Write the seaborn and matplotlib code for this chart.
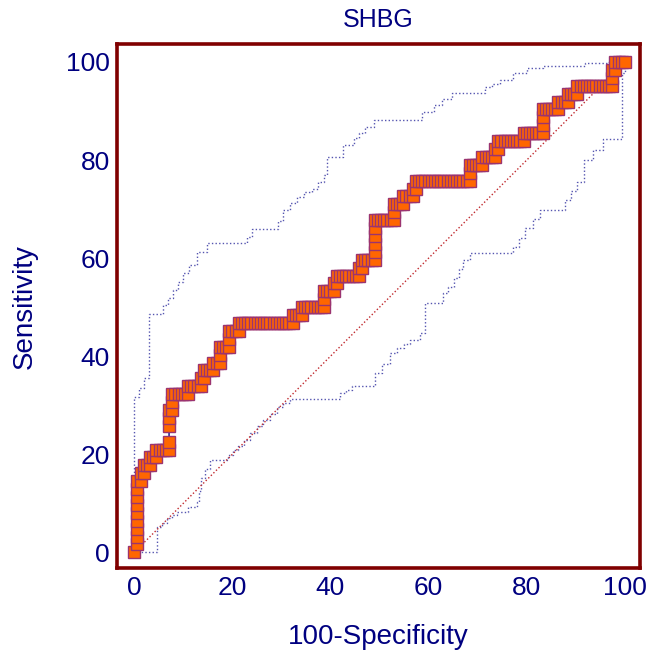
import numpy as np
import pandas as pd
import matplotlib
matplotlib.use("Agg")
import matplotlib.pyplot as plt
from matplotlib.ticker import MultipleLocator
import seaborn as sns

# ROC curve of SHBG, read off the picture as counts of
# false positives / true positives at each criterion value
n_neg = 155
n_pos = 62

fp_counts = [0,
             1, 1, 1, 1, 1, 1, 1, 1, 1,
             2, 2, 3, 3, 4, 5, 5, 6, 7, 7,
             8, 9, 10, 11, 11, 11, 11, 11,
             12, 12, 12, 13, 14, 15, 16, 17, 17,
             18, 19, 20, 21, 21, 22, 22,
             23, 24, 25, 25, 26, 27, 27, 27,
             28, 29, 30, 30, 30, 31, 32, 33, 33,
             34, 35, 36, 37, 38, 39, 40, 41, 42,
             43, 44, 45, 46, 47, 48, 49, 50, 50,
             51, 52, 53, 53, 54, 55, 56, 57, 58, 59, 60, 60, 60,
             61, 62, 63, 63, 64, 64,
             65, 66, 67, 68, 69, 70, 71, 71, 72, 72,
             73, 74, 75, 76, 76, 76, 76, 76, 76,
             77, 78, 79, 80, 81, 82, 82, 82,
             83, 84, 85, 85, 86, 87, 88, 88, 89, 89,
             90, 91, 92, 93, 94, 95, 96, 97, 98,
             99, 100, 101, 102, 103, 104, 105, 106, 106, 106,
             107, 108, 109, 110, 110, 111, 112, 113, 114, 114, 115, 115,
             116, 117, 118, 119, 120, 121, 122, 123, 123,
             124, 125, 126, 127, 128, 129, 129, 129, 129,
             130, 131, 132, 133, 134, 134, 135, 136, 137, 137, 138, 139, 140, 140,
             141, 142, 143, 144, 145, 146, 147, 148, 149, 150, 151, 151, 151,
             152, 152, 153, 154, 155]

tp_counts = [0,
             1, 2, 3, 4, 5, 6, 7, 8, 9,
             9, 10, 10, 11, 11, 11, 12, 12, 12, 13,
             13, 13, 13, 13, 14, 16, 17, 18,
             18, 19, 20, 20, 20, 20, 20, 20, 21,
             21, 21, 21, 21, 22, 22, 23,
             23, 23, 23, 24, 24, 24, 25, 26,
             26, 26, 26, 27, 28, 28, 28, 28, 29,
             29, 29, 29, 29, 29, 29, 29, 29, 29,
             29, 29, 29, 29, 29, 29, 29, 29, 30,
             30, 30, 30, 31, 31, 31, 31, 31, 31, 31, 31, 32, 33,
             33, 33, 33, 34, 34, 35,
             35, 35, 35, 35, 35, 35, 35, 36, 36, 37,
             37, 37, 37, 37, 38, 39, 40, 41, 42,
             42, 42, 42, 42, 42, 42, 43, 44,
             44, 44, 44, 45, 45, 45, 45, 46, 46, 47,
             47, 47, 47, 47, 47, 47, 47, 47, 47,
             47, 47, 47, 47, 47, 47, 47, 47, 48, 49,
             49, 49, 49, 49, 50, 50, 50, 50, 50, 51, 51, 52,
             52, 52, 52, 52, 52, 52, 52, 52, 53,
             53, 53, 53, 53, 53, 53, 54, 55, 56,
             56, 56, 56, 56, 56, 57, 57, 57, 57, 58, 58, 58, 58, 59,
             59, 59, 59, 59, 59, 59, 59, 59, 59, 59, 59, 60, 61,
             61, 62, 62, 62, 62]

# 95% confidence bounds (step corners, %)
upper_x = [0, 0, 0.9, 1.9, 3.0, 5.9, 6.9, 8.0, 9.0, 10.0, 11.2, 12.7, 14.8, 22.9, 24.0,
           29.4, 30.4, 31.7, 33.1, 34.6, 36.2, 37.4, 38.6, 39.2, 42.6, 44.7, 45.9, 47.1,
           48.8, 58.6, 61.0, 62.8, 64.7, 71.5, 73.0, 74.6, 77.3, 80.0, 83.4, 91.9, 96.3, 100]
upper_y = [0, 31.7, 33.5, 35.5, 48.7, 50.4, 51.9, 53.5, 55.2, 56.9, 58.5, 61.3, 63.0, 64.4, 65.9,
           67.5, 69.8, 71.2, 72.5, 73.4, 74.2, 75.6, 76.9, 80.7, 83.1, 84.4, 85.6, 86.8,
           88.2, 89.8, 91.2, 92.4, 93.6, 94.9, 95.6, 96.3, 97.7, 98.7, 99.1, 99.7, 100, 100]

lower_x = [0, 4.6, 5.6, 6.6, 7.6, 8.7, 11.0, 12.7, 13.2, 13.6, 14.5, 15.5, 19.2, 20.2, 21.2,
           22.3, 23.6, 25.0, 26.3, 27.6, 29.0, 30.3, 31.7, 42.0, 43.1, 44.3, 49.1, 50.6, 52.1,
           53.5, 54.9, 56.2, 58.3, 59.3, 63.0, 64.0, 65.1, 66.1, 67.1, 68.5, 77.3, 78.5, 79.7,
           81.2, 82.7, 87.8, 89.0, 90.2, 91.6, 93.6, 95.6, 99.4, 100]
lower_y = [0, 5.2, 6.0, 7.0, 7.6, 8.3, 9.3, 10.3, 12.6, 15.1, 17.0, 18.9, 19.9, 20.9, 21.6,
           22.9, 24.3, 25.7, 27.0, 28.3, 29.7, 30.4, 31.2, 32.4, 33.2, 33.9, 36.5, 38.5, 40.6,
           41.6, 42.4, 43.3, 44.7, 50.8, 52.8, 54.2, 55.9, 57.7, 59.6, 61.0, 62.3, 64.2, 66.1,
           68.0, 69.8, 71.8, 73.7, 75.6, 80.0, 82.0, 84.2, 97.7, 100]

diag = [0, 100]

navy = "#000080"
maroon = "#800000"

sns.set_theme(style="white")
plt.rcParams['font.family'] = ['Liberation Sans', 'DejaVu Sans']

roc = pd.DataFrame({"fpr": 100 * np.array(fp_counts) / n_neg,
                    "tpr": 100 * np.array(tp_counts) / n_pos})

fig = plt.figure(figsize=(6.54, 6.59), dpi=100)
ax = fig.add_axes([0.179, 0.138, 0.7997, 0.7951])

# confidence bounds and the reference diagonal
dotted = (0, (1, 1.6))
sns.lineplot(x=upper_x, y=upper_y, estimator=None, sort=False, drawstyle="steps-post",
             color="#5555B0", lw=1, linestyle=dotted, ax=ax, zorder=2)
sns.lineplot(x=lower_x, y=lower_y, estimator=None, sort=False, drawstyle="steps-post",
             color="#5555B0", lw=1, linestyle=dotted, ax=ax, zorder=2)
sns.lineplot(x=diag, y=diag, estimator=None, sort=False,
             color="#C0282D", lw=1, linestyle=dotted, ax=ax, zorder=2)

# ROC curve with square markers
sns.lineplot(data=roc, x="fpr", y="tpr", estimator=None, sort=False,
             color=navy, lw=1, marker="s", markersize=9.2,
             markerfacecolor="#FF6600", markeredgecolor="#9B3470",
             markeredgewidth=1.0, ax=ax, zorder=4)

ax.set_xlim(-3.5, 103.1)
ax.set_ylim(-3.2, 103.65)
ax.xaxis.set_major_locator(MultipleLocator(20))
ax.yaxis.set_major_locator(MultipleLocator(20))
ax.xaxis.set_minor_locator(MultipleLocator(5))
ax.yaxis.set_minor_locator(MultipleLocator(5))

for s in ax.spines.values():
    s.set_color(maroon)
    s.set_linewidth(2.6)
    s.set_visible(True)

ax.tick_params(which="both", direction="in", color=maroon, labelcolor=navy,
               top=False, right=False, labelsize=19)
ax.tick_params(axis="y", which="major", length=11, width=2.2, pad=5)
ax.tick_params(axis="y", which="minor", length=6, width=1.4)
ax.tick_params(axis="x", which="major", length=10, width=2.2, pad=6)
ax.tick_params(axis="x", which="minor", length=4.5, width=1.4)

ax.set_xlabel("100-Specificity", color=navy, fontsize=20)
ax.set_ylabel("Sensitivity", color=navy, fontsize=20)
ax.xaxis.set_label_coords(0.5, -0.106)
ax.yaxis.set_label_coords(-0.151, 0.5)
ax.set_title("SHBG", color=navy, fontsize=18, pad=12)

fig.savefig("out.png", dpi=100)
